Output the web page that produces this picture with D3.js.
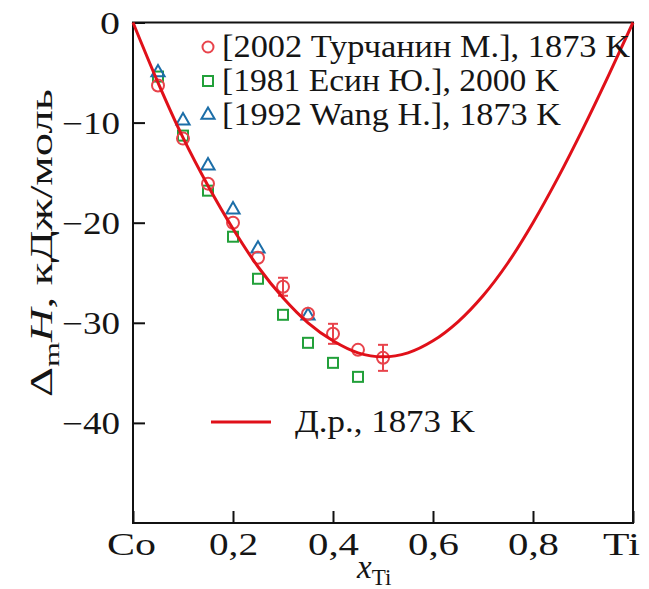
<!DOCTYPE html>
<html>
<head>
<meta charset="utf-8">
<script src="https://cdn.jsdelivr.net/npm/d3@7"></script>
<style>
	body { margin: 0; background: #fff; }
	svg text { font-family: "Liberation Serif", "LiberationSerif", Tinos, "Nimbus Roman", "Noto Serif", FreeSerif, Times, "DejaVu Serif", serif; fill: #151515; }
</style>
</head>
<body>
<div id="chart"></div>
<script>
// calculated curve (Д.р., 1873 K)
var curveX = [0, 0.05, 0.1, 0.15, 0.2, 0.25, 0.3, 0.35, 0.4, 0.45, 0.5, 0.55, 0.6, 0.65, 0.7, 0.75, 0.8, 0.85, 0.9, 0.95, 1];
var curveY = [0, -6.0, -11.5, -16.3, -20.6, -24.4, -27.5, -30.0, -31.8, -33.0, -33.4, -33.0, -31.8, -29.9, -27.3, -24.0, -20.0, -15.5, -10.6, -5.4, 0];

// [2002 Турчанин М.], 1873 K
var turX = [0.05, 0.1, 0.15, 0.2, 0.25, 0.3, 0.35, 0.4, 0.45, 0.5];
var turY = [-6.3, -11.6, -16.1, -20.0, -23.5, -26.4, -29.1, -31.1, -32.7, -33.5];
var turErr = [0, 0, 0, 0, 0, 0.9, 0, 1.0, 0, 1.3];

// [1981 Есин Ю.], 2000 K
var esinX = [0.05, 0.1, 0.15, 0.2, 0.25, 0.3, 0.35, 0.4, 0.45];
var esinY = [-5.4, -11.3, -16.8, -21.4, -25.6, -29.2, -32.0, -34.0, -35.4];

// [1992 Wang H.], 1873 K
var wangX = [0.05, 0.1, 0.15, 0.2, 0.25, 0.35];
var wangY = [-5.0, -9.8, -14.3, -18.7, -22.6, -29.3];

var xTicks = [0, 0.2, 0.4, 0.6, 0.8, 1];
var xTickLabels = ["Co", "0,2", "0,4", "0,6", "0,8", "Ti"];
var yTicks = [0, -10, -20, -30, -40];
var yTickLabels = ["0", "\u221210", "\u221220", "\u221230", "\u221240"];

var colors = {
	tur: "#e8434b",
	esin: "#22a03a",
	wang: "#1c6ea8",
	curve: "#e01019"
};

var dims = {
	width: 649,
	height: 589,
	margin: { top: 22.5, right: 16, bottom: 66, left: 133 }
};
var w = dims.width - dims.margin.left - dims.margin.right;
var h = dims.height - dims.margin.top - dims.margin.bottom;

var svg = d3.select("#chart")
	.append("svg")
		.attr("width", dims.width)
		.attr("height", dims.height);

// which serif did we get? DejaVu Serif runs wide and tall, so shrink it a little
var probe = svg.append("text").style("font-size", "100px").text("0000000000");
var probeW = probe.node().getComputedTextLength();
probe.remove();
var fs = probeW > 560 ? 28 : 31;

var g = svg.append("g")
	.attr("transform", "translate(" + dims.margin.left + "," + dims.margin.top + ")");

var x = d3.scaleLinear().domain([0, 1]).range([0, w]);
var y = d3.scaleLinear().domain([-50, 0]).range([h, 0]);

// the original glyphs are wider than Times, so stretch to the measured width
function stretch(sel, width) {
	sel.attr("textLength", width).attr("lengthAdjust", "spacingAndGlyphs");
}

var xAxis = d3.axisBottom(x)
	.tickValues(xTicks)
	.tickSizeInner(-12)
	.tickSizeOuter(0)
	.tickPadding(10)
	.tickFormat(function(d, i) { return xTickLabels[i]; });

var yAxis = d3.axisLeft(y)
	.tickValues(yTicks)
	.tickSizeInner(-12)
	.tickSizeOuter(0)
	.tickPadding(13)
	.tickFormat(function(d, i) { return yTickLabels[i]; });

var gx = g.append("g").attr("transform", "translate(0," + h + ")").call(xAxis);
var gy = g.append("g").call(yAxis);

[gx, gy].forEach(function(a) {
	a.attr("font-family", null);
	a.select(".domain").remove();
	a.selectAll(".tick line").attr("stroke", "#111").attr("stroke-width", 2);
	a.selectAll(".tick text")
		.attr("fill", "#151515")
		.style("font-size", fs + "px");
});
gx.selectAll(".tick text")
	.attr("dy", "0.71em")
	.each(function(d, i) {
		var wd = [49, 49, 51, 51, 51, 37][i];
		stretch(d3.select(this), wd);
	});
gx.selectAll(".tick").filter(function(d) { return d == 1; }).select("text").attr("dx", -12);
gx.selectAll(".tick").filter(function(d) { return d == 0; }).select("text").attr("dx", -2);
gy.selectAll(".tick text")
	.attr("dy", "0.34em")
	.each(function(d, i) {
		stretch(d3.select(this), i == 0 ? 20 : 58);
	});

// frame
g.append("rect")
	.attr("x", 0).attr("y", 0)
	.attr("width", w).attr("height", h)
	.attr("fill", "none")
	.attr("stroke", "#111")
	.attr("stroke-width", 2);

function pts(xs, ys) {
	return xs.map(function(d, i) { return [d, ys[i]]; });
}

// squares
var sq = 10;
g.append("g").selectAll("rect")
	.data(pts(esinX, esinY))
	.enter().append("rect")
		.attr("x", function(d) { return x(d[0]) - sq / 2; })
		.attr("y", function(d) { return y(d[1]) - sq / 2; })
		.attr("width", sq).attr("height", sq)
		.attr("fill", "none")
		.attr("stroke", colors.esin)
		.attr("stroke-width", 2);

// triangles
var tri = d3.symbol().type(d3.symbolTriangle).size(75);
g.append("g").selectAll("path")
	.data(pts(wangX, wangY))
	.enter().append("path")
		.attr("d", tri)
		.attr("transform", function(d) { return "translate(" + x(d[0]) + "," + y(d[1]) + ")"; })
		.attr("fill", "none")
		.attr("stroke", colors.wang)
		.attr("stroke-width", 2);

// error bars
var errs = turX.map(function(d, i) { return [d, turY[i], turErr[i]]; })
	.filter(function(d) { return d[2] > 0; });
var eb = g.append("g").attr("stroke", colors.tur).attr("stroke-width", 2);
errs.forEach(function(d) {
	var cx = x(d[0]);
	eb.append("line").attr("x1", cx).attr("x2", cx).attr("y1", y(d[1] - d[2])).attr("y2", y(d[1] + d[2]));
	eb.append("line").attr("x1", cx - 5).attr("x2", cx + 5).attr("y1", y(d[1] - d[2])).attr("y2", y(d[1] - d[2]));
	eb.append("line").attr("x1", cx - 5).attr("x2", cx + 5).attr("y1", y(d[1] + d[2])).attr("y2", y(d[1] + d[2]));
});

// circles
g.append("g").selectAll("circle")
	.data(pts(turX, turY))
	.enter().append("circle")
		.attr("cx", function(d) { return x(d[0]); })
		.attr("cy", function(d) { return y(d[1]); })
		.attr("r", 6)
		.attr("fill", "none")
		.attr("stroke", colors.tur)
		.attr("stroke-width", 2);

// curve
var line = d3.line()
	.x(function(d) { return x(d[0]); })
	.y(function(d) { return y(d[1]); })
	.curve(d3.curveCatmullRom);

g.append("path")
	.datum(pts(curveX, curveY))
	.attr("d", line)
	.attr("fill", "none")
	.attr("stroke", colors.curve)
	.attr("stroke-width", 3);

// legend
var legend = svg.append("g");
var rows = [
	{ key: "tur", y: 47, label: "[2002 Турчанин М.], 1873 K", len: 408 },
	{ key: "esin", y: 81, label: "[1981 Есин Ю.], 2000 K", len: 337 },
	{ key: "wang", y: 115, label: "[1992 Wang H.], 1873 K", len: 339 }
];
rows.forEach(function(r) {
	if (r.key == "tur") {
		legend.append("circle").attr("cx", 208).attr("cy", r.y).attr("r", 5.5)
			.attr("fill", "none").attr("stroke", colors.tur).attr("stroke-width", 2);
	} else if (r.key == "esin") {
		legend.append("rect").attr("x", 203).attr("y", r.y - 5).attr("width", 10).attr("height", 10)
			.attr("fill", "none").attr("stroke", colors.esin).attr("stroke-width", 2);
	} else {
		legend.append("path").attr("d", tri).attr("transform", "translate(208," + r.y + ")")
			.attr("fill", "none").attr("stroke", colors.wang).attr("stroke-width", 2);
	}
	var t = legend.append("text")
		.attr("x", 222).attr("y", r.y + 10)
		.style("font-size", fs + "px")
		.text(r.label);
	stretch(t, r.len);
});

legend.append("line")
	.attr("x1", 211).attr("x2", 271).attr("y1", 422).attr("y2", 422)
	.attr("stroke", colors.curve).attr("stroke-width", 3);
var dr = legend.append("text")
	.attr("x", 295).attr("y", 432)
	.style("font-size", fs + "px")
	.text("Д.р., 1873 K");
stretch(dr, 180);

// y axis label
var yl = svg.append("text")
	.attr("transform", "translate(52,243) rotate(-90)")
	.attr("text-anchor", "middle")
	.style("font-size", (fs + 1) + "px");
yl.append("tspan").text("\u0394");
yl.append("tspan").attr("dy", 7).style("font-size", (fs - 9) + "px").text("m");
yl.append("tspan").attr("dy", -7).style("font-style", "italic").text("H");
yl.append("tspan").text(", кДж/моль");
stretch(yl, 308);

// x axis label
var xl = svg.append("text")
	.attr("x", 357).attr("y", 578)
	.style("font-size", (fs + 2) + "px");
xl.append("tspan").style("font-style", "italic").text("x");
xl.append("tspan").attr("dy", 7).style("font-size", (fs - 8) + "px").text("Ti");
</script>
</body>
</html>
